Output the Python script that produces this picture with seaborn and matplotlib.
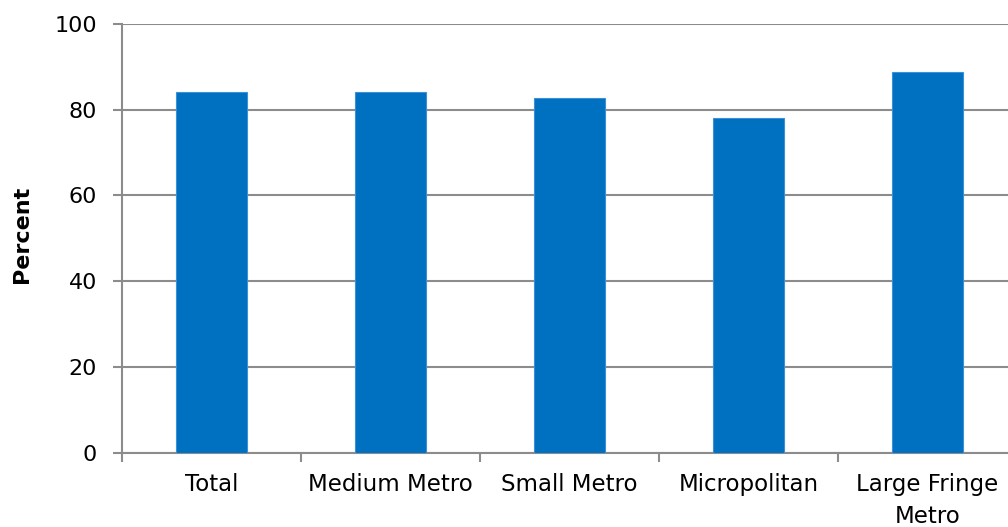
import numpy as np
import pandas as pd
import matplotlib
matplotlib.use("Agg")
import matplotlib.pyplot as plt
import seaborn as sns

# Data
categories = ["Total", "Medium Metro", "Small Metro", "Micropolitan", "Large Fringe\nMetro"]
percent = [84.0, 84.2, 82.6, 78.0, 88.7]

df = pd.DataFrame({"category": categories, "percent": percent})

sns.set_theme(style="white")
plt.rcParams["font.family"] = ["DejaVu Sans"]
plt.rcParams["text.color"] = "black"
plt.rcParams["axes.labelcolor"] = "black"

fig = plt.figure(figsize=(10.08, 5.27), dpi=100)
# axes runs slightly past the right edge, as in the reference
ax = fig.add_axes([0.121, 0.1404, 0.888, 0.8146])

sns.barplot(data=df, x="category", y="percent", color="#0070C0", width=0.4,
            saturation=1, edgecolor="#3d8fd6", linewidth=0.8, ax=ax, zorder=3)

grid_color = "#8c8c8c"
ax.set_ylim(0, 100)
ax.set_xlim(-0.5, len(categories) - 0.5)
ax.set_yticks(np.arange(0, 101, 20))
ax.yaxis.grid(True, color=grid_color, linewidth=1.5, zorder=0)
ax.set_axisbelow(True)

# tick marks between categories, labels at centres
ax.set_xticks(np.arange(-0.5, len(categories)), labels=[""] * (len(categories) + 1))
ax.set_xticks(np.arange(len(categories)), labels=categories, minor=True)
ax.tick_params(axis="x", which="major", length=6.5, width=1.5, color=grid_color, bottom=True)
ax.tick_params(axis="x", which="minor", length=0, labelsize=16.5, pad=14.5)
ax.tick_params(axis="y", length=6.5, width=1.5, color=grid_color, labelsize=16,
               left=True, pad=11.5)
ax.tick_params(which="both", labelcolor="black")
for lab in ax.get_xticklabels(minor=True):
    lab.set_linespacing(1.5)

for side in ["top", "right"]:
    ax.spines[side].set_visible(False)
for side in ["left", "bottom"]:
    ax.spines[side].set_color(grid_color)
    ax.spines[side].set_linewidth(1.5)

ax.set_xlabel("")
ax.set_ylabel("Percent", fontsize=16, fontweight="bold")
ax.yaxis.set_label_coords(-0.1, 0.51)

fig.savefig("out.png", dpi=100)
